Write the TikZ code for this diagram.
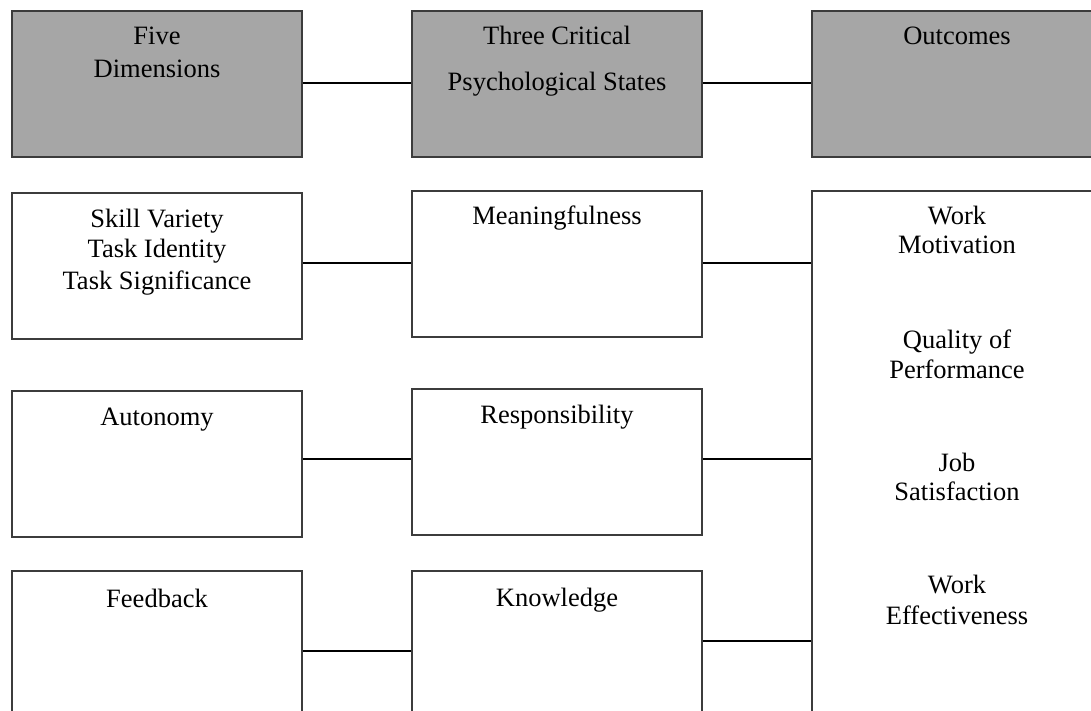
\documentclass[tikz,border=0pt]{standalone}
\usepackage{fontspec}
\setmainfont{Liberation Serif}
\definecolor{hgray}{HTML}{A6A6A6}
\definecolor{boxline}{HTML}{3C3C3C}
\begin{document}
\begin{tikzpicture}[x=1pt,y=-1pt,
  box/.style={draw=boxline, line width=1.5pt, rectangle, inner sep=0pt, minimum width=290pt},
  gbox/.style={box, fill=hgray},
  wbox/.style={box, fill=white},
  lbl/.style={anchor=base, inner sep=0pt, font=\fontsize{26.5pt}{30pt}\selectfont},
  conn/.style={draw=black, line width=1.8pt}]
\useasboundingbox (0,0) rectangle (1091,711);
\clip (0,0) rectangle (1091,711);
% header boxes
\node[gbox, minimum height=146pt] (g1) at (157,84) {};
\node[gbox, minimum height=146pt] (g2) at (557,84) {};
\node[gbox, minimum height=146pt] (g3) at (957,84) {};
% white boxes
\node[wbox, minimum height=146pt] (skill) at (157,266) {};
\node[wbox, minimum height=146pt] (mean) at (557,264) {};
\node[wbox, minimum height=146pt] (auto) at (157,464) {};
\node[wbox, minimum height=146pt] (resp) at (557,462) {};
\node[wbox, minimum height=159pt] (feed) at (157,650.5) {};
\node[wbox, minimum height=159pt] (know) at (557,650.5) {};
\node[wbox, minimum height=539pt] (out) at (957,460.5) {};
% connector levels
\coordinate (y0) at (0,83);
\coordinate (y1) at (0,263);
\coordinate (y2) at (0,459);
\coordinate (y3a) at (0,651);
\coordinate (y3b) at (0,641);
\draw[conn] (g1.east |- y0) -- (g2.west |- y0);
\draw[conn] (g2.east |- y0) -- (g3.west |- y0);
\draw[conn] (skill.east |- y1) -- (mean.west |- y1);
\draw[conn] (mean.east |- y1) -- (out.west |- y1);
\draw[conn] (auto.east |- y2) -- (resp.west |- y2);
\draw[conn] (resp.east |- y2) -- (out.west |- y2);
\draw[conn] (feed.east |- y3a) -- (know.west |- y3a);
\draw[conn] (know.east |- y3b) -- (out.west |- y3b);
% labels
\node[lbl] (t1a) at (157,45) {Five};
\node[lbl] (t1b) at (157,78) {Dimensions};
\node[lbl] (t2a) at (557,45) {Three Critical};
\node[lbl] (t2b) at (557,91) {Psychological States};
\node[lbl] (t3a) at (957,45) {Outcomes};
\node[lbl] (s1) at (157,228) {Skill Variety};
\node[lbl] (s2) at (157,258) {Task Identity};
\node[lbl] (s3) at (157,289) {Task Significance};
\node[lbl] (m1) at (557,225) {Meaningfulness};
\node[lbl] (a1) at (157,425) {Autonomy};
\node[lbl] (r1) at (557,423) {Responsibility};
\node[lbl] (f1) at (157,607) {Feedback};
\node[lbl] (k1) at (557,606) {Knowledge};
\node[lbl] (o1) at (957,225) {Work};
\node[lbl] (o2) at (957,253) {Motivation};
\node[lbl] (o3) at (957,348) {Quality of};
\node[lbl] (o4) at (957,378) {Performance};
\node[lbl] (o5) at (957,471) {Job};
\node[lbl] (o6) at (957,500) {Satisfaction};
\node[lbl] (o7) at (957,593) {Work};
\node[lbl] (o8) at (957,624) {Effectiveness};
\end{tikzpicture}
\end{document}
